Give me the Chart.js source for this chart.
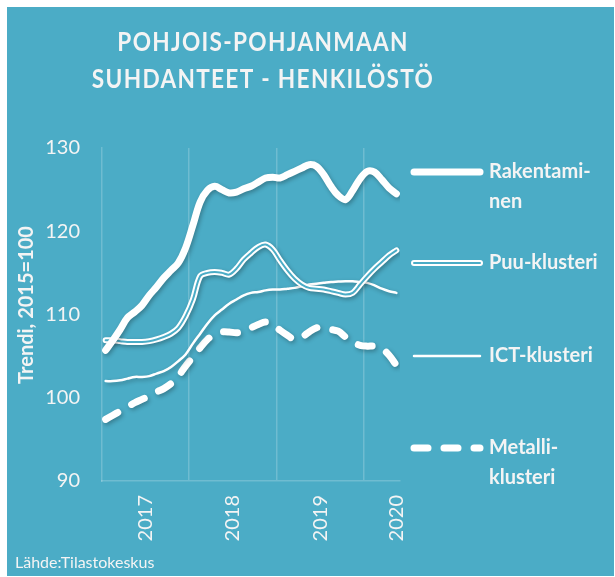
<!DOCTYPE html>
<html><head><meta charset="utf-8">
<script src="https://cdn.jsdelivr.net/npm/chart.js@4"></script>
<style>
html,body{margin:0;padding:0;background:#fff;width:615px;height:577px;overflow:hidden;}
#panel{position:absolute;left:7px;top:7px;width:607px;height:569px;background:#4BACC6;}
canvas{display:block;}
</style></head><body>
<div id="panel"><canvas id="c" width="607" height="569"></canvas></div>
<script>
// ---- data ----
const titleLines = ['POHJOIS-POHJANMAAN', 'SUHDANTEET - HENKILÖSTÖ'];
const yAxisTitle = 'Trendi, 2015=100';
const sourceText = 'Lähde:Tilastokeskus';
const years = ['2017', '2018', '2019', '2020'];
const monthsPerYear = 12;
const seriesNames = ['Rakentaminen', 'Puu-klusteri', 'ICT-klusteri', 'Metalli-klusteri'];
const legendLabels = [['Rakentami-', 'nen'], ['Puu-klusteri'], ['ICT-klusteri'], ['Metalli-', 'klusteri']];
const yMin = 90, yMax = 130, yStep = 10;

// monthly trend values, Jan 2017 ... May 2020
const rakentaminen = [105.7,106.9,108.2,109.6,110.3,111.1,112.3,113.3,114.4,115.3,116.2,118.0,120.7,123.5,124.9,125.4,125.0,124.6,124.7,125.1,125.4,125.9,126.4,126.5,126.4,126.8,127.2,127.6,128.0,127.8,126.8,125.4,124.3,123.8,124.9,126.3,127.2,127.1,126.2,125.2,124.5];
const puuKlusteri = [106.9,106.9,106.8,106.7,106.7,106.7,106.8,107.0,107.3,107.7,108.4,109.8,111.8,114.6,115.0,115.1,115.0,114.8,115.5,116.6,117.4,118.1,118.4,117.8,116.5,115.3,114.3,113.6,113.2,113.1,113.0,112.8,112.6,112.4,112.6,113.6,114.6,115.5,116.3,117.1,117.7];
const ictKlusteri = [102.0,102.0,102.1,102.3,102.5,102.5,102.6,102.9,103.2,103.7,104.4,105.2,106.5,107.7,108.9,109.9,110.6,111.3,111.8,112.3,112.6,112.7,112.9,113.0,113.0,113.1,113.2,113.4,113.6,113.7,113.8,113.9,113.95,114.0,114.0,113.9,113.8,113.5,113.1,112.8,112.6];
const metalliKlusteri = [97.4,97.9,98.4,98.9,99.4,99.8,100.2,100.7,101.1,101.7,102.6,103.8,104.9,106.0,107.0,107.6,107.9,107.9,107.8,108.0,108.4,108.8,109.1,108.8,108.1,107.5,107.0,107.3,107.9,108.4,108.4,108.2,108.0,107.3,106.7,106.3,106.2,106.2,105.9,105.1,103.9];

// ---- build ----
const BG = '#4BACC6';
const TXT = '#F4F4F4';
const nMonths = rakentaminen.length;
const toPoints = arr => arr.map((v, i) => ({x: i + 0.5, y: v}));

const tickDefs = [];
years.forEach((yr, k) => {
  tickDefs.push({value: k * monthsPerYear, label: '', boundary: k > 0});
  tickDefs.push({value: Math.min(k * monthsPerYear + monthsPerYear / 2, nMonths - 0.5), label: yr, boundary: false});
});

const seriesValues = [rakentaminen, puuKlusteri, ictKlusteri, metalliKlusteri];
const styles = [
  {borderWidth: 7},
  {borderWidth: 6, inner: 2},
  {borderWidth: 2.5},
  {borderWidth: 7, borderDash: [14, 16]}
];

const datasets = seriesValues.map((vals, k) => ({
  label: seriesNames[k],
  data: toPoints(vals),
  borderColor: '#FFFFFF',
  borderWidth: styles[k].borderWidth,
  borderDash: styles[k].borderDash || [],
  innerLine: styles[k].inner || 0,
  borderCapStyle: 'round',
  borderJoinStyle: 'round',
  pointRadius: 0,
  tension: 0.35,
  fill: false
}));

const shadowPlugin = {
  id: 'lineShadow',
  beforeDatasetDraw(chart) {
    const ctx = chart.ctx;
    ctx.save();
    ctx.shadowColor = 'rgba(0,0,0,0.28)';
    ctx.shadowBlur = 4;
    ctx.shadowOffsetX = 1.5;
    ctx.shadowOffsetY = 2;
  },
  afterDatasetDraw(chart, args) {
    const ctx = chart.ctx;
    ctx.restore();
    const ds = chart.data.datasets[args.index];
    if (ds.innerLine) {
      const line = args.meta.dataset;
      const p = new Path2D();
      line.path(p);
      ctx.save();
      ctx.strokeStyle = BG;
      ctx.lineWidth = ds.innerLine;
      ctx.lineJoin = 'round';
      ctx.lineCap = 'round';
      ctx.stroke(p);
      ctx.restore();
    }
  }
};

const decorPlugin = {
  id: 'decor',
  afterDraw(chart) {
    const ctx = chart.ctx;
    const a = chart.chartArea;
    // title (slightly condensed, like the original's narrow typeface)
    ctx.save();
    ctx.fillStyle = TXT;
    ctx.font = 'bold 26px Lato';
    ctx.letterSpacing = '1.5px';
    ctx.textAlign = 'center';
    ctx.textBaseline = 'middle';
    ctx.translate(256, 0);
    ctx.scale(0.87, 1);
    titleLines.forEach((t, i) => ctx.fillText(t, 0, 36 + i * 37));
    ctx.restore();

    // y-axis title
    ctx.save();
    ctx.fillStyle = TXT;
    ctx.font = 'bold 20px Lato';
    ctx.textAlign = 'center';
    ctx.textBaseline = 'middle';
    ctx.translate(20, 298);
    ctx.rotate(-Math.PI / 2);
    ctx.fillText(yAxisTitle, 0, 0);
    ctx.restore();

    // legend
    const rows = [a.top + 24, a.top + 115, a.top + 208, a.top + 300];
    const x0 = a.right + 14, x1 = a.right + 80, tx = a.right + 89;
    chart.data.datasets.forEach((ds, k) => {
      const y = rows[k];
      ctx.save();
      ctx.strokeStyle = ds.borderColor;
      ctx.lineWidth = ds.borderWidth;
      ctx.lineCap = 'round';
      ctx.setLineDash(ds.borderDash || []);
      ctx.beginPath(); ctx.moveTo(x0, y); ctx.lineTo(x1, y); ctx.stroke();
      if (ds.innerLine) {
        ctx.strokeStyle = BG; ctx.lineWidth = ds.innerLine;
        ctx.beginPath(); ctx.moveTo(x0, y); ctx.lineTo(x1, y); ctx.stroke();
      }
      ctx.restore();
      ctx.save();
      ctx.fillStyle = TXT;
      ctx.font = 'bold 20px Lato';
      ctx.textAlign = 'left';
      ctx.textBaseline = 'middle';
      legendLabels[k].forEach((t, j) => ctx.fillText(t, tx, y + j * 30));
      ctx.restore();
    });

    // source
    ctx.save();
    ctx.fillStyle = TXT;
    ctx.font = '16px Lato';
    ctx.textAlign = 'left';
    ctx.textBaseline = 'middle';
    ctx.fillText(sourceText, 8, 556);
    ctx.restore();
  }
};

new Chart(document.getElementById('c'), {
  type: 'line',
  data: {datasets},
  plugins: [shadowPlugin, decorPlugin],
  options: {
    responsive: false,
    animation: false,
    devicePixelRatio: 1,
    layout: {padding: {left: 0, right: 214, top: 141, bottom: 0}},
    plugins: {legend: {display: false}, title: {display: false}, tooltip: {enabled: false}},
    scales: {
      x: {
        type: 'linear',
        min: 0,
        max: nMonths,
        afterBuildTicks: s => { s.ticks = tickDefs.map(t => ({value: t.value})); },
        afterFit: s => { s.height = 95; },
        ticks: {
          autoSkip: false,
          minRotation: 90,
          maxRotation: 90,
          padding: 14,
          color: TXT,
          font: {family: 'Lato', size: 20},
          callback: v => { const t = tickDefs.find(d => d.value === v); return t ? t.label : ''; }
        },
        grid: {
          drawTicks: false,
          lineWidth: 1.5,
          color: c => { const t = tickDefs.find(d => d.value === (c.tick && c.tick.value)); return t && t.boundary ? 'rgba(255,255,255,0.2)' : 'rgba(0,0,0,0)'; }
        },
        border: {display: true, color: 'rgba(255,255,255,0.2)', width: 1.5}
      },
      y: {
        min: yMin,
        max: yMax,
        afterFit: s => { s.width = 95; },
        ticks: {stepSize: yStep, padding: 22, color: TXT, font: {family: 'Lato', size: 20}},
        grid: {display: false, drawTicks: false},
        border: {display: true, color: 'rgba(255,255,255,0.2)', width: 1.5},
        title: {display: false}
      }
    }
  }
});
</script>
</body></html>
